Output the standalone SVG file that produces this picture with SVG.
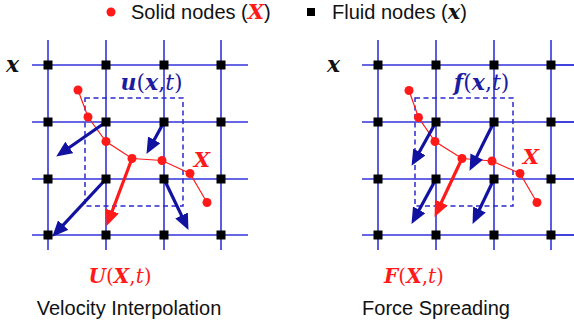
<svg xmlns="http://www.w3.org/2000/svg" width="574" height="333" viewBox="0 0 574 333">
<style>
.grid{stroke:#3434dc;stroke-width:1.6;fill:none}
.fn{fill:#000}
.dash{stroke:#2a2ad0;stroke-width:1.5;fill:none;stroke-dasharray:5,3.5}
.chain{stroke:#ff1a1a;stroke-width:1.2;fill:none}
.sn{fill:#ff1a1a}
.ba{stroke:#1212a0;stroke-width:3.2;fill:none;marker-end:url(#hb)}
.ra{stroke:#ff1a1a;stroke-width:3.2;fill:none;marker-end:url(#hr)}
.sans{font-family:"Liberation Sans",Arial,sans-serif;fill:#111}
.math{font-family:"DejaVu Serif","Liberation Serif",serif}
.bi{font-weight:bold;font-style:italic}
.it{font-style:italic}
</style>
<defs>
<marker id="hb" markerUnits="userSpaceOnUse" markerWidth="18" markerHeight="16" refX="11" refY="7" orient="auto" viewBox="0 0 18 16">
<path d="M0,0 L16,7 L0,14 z" fill="#1212a0"/>
</marker>
<marker id="hr" markerUnits="userSpaceOnUse" markerWidth="18" markerHeight="16" refX="11" refY="7" orient="auto" viewBox="0 0 18 16">
<path d="M0,0 L16,7 L0,14 z" fill="#ff1a1a"/>
</marker>
<g id="gridlines">
<path class="grid" d="M48,40V250M106,40V250M164,40V250M221,40V250M32,65H248M32,122H248M32,179H248M32,235H248"/>
</g>
<g id="fluidnodes">
<rect class="fn" x="43.5" y="60.5" width="9" height="9"/>
<rect class="fn" x="101.5" y="60.5" width="9" height="9"/>
<rect class="fn" x="159.5" y="60.5" width="9" height="9"/>
<rect class="fn" x="216.5" y="60.5" width="9" height="9"/>
<rect class="fn" x="43.5" y="117.5" width="9" height="9"/>
<rect class="fn" x="101.5" y="117.5" width="9" height="9"/>
<rect class="fn" x="159.5" y="117.5" width="9" height="9"/>
<rect class="fn" x="216.5" y="117.5" width="9" height="9"/>
<rect class="fn" x="43.5" y="174.5" width="9" height="9"/>
<rect class="fn" x="101.5" y="174.5" width="9" height="9"/>
<rect class="fn" x="159.5" y="174.5" width="9" height="9"/>
<rect class="fn" x="216.5" y="174.5" width="9" height="9"/>
<rect class="fn" x="43.5" y="230.5" width="9" height="9"/>
<rect class="fn" x="101.5" y="230.5" width="9" height="9"/>
<rect class="fn" x="159.5" y="230.5" width="9" height="9"/>
<rect class="fn" x="216.5" y="230.5" width="9" height="9"/>
</g>
</defs>

<!-- Legend -->
<g id="legend">
<circle class="sn" cx="111" cy="12" r="4.5"/>
<text class="sans" x="131" y="19" font-size="20">Solid nodes (<tspan class="math bi" fill="#ff1a1a" font-size="21">X</tspan>)</text>
<rect class="fn" x="307" y="8" width="8" height="8"/>
<text class="sans" x="332" y="19" font-size="20">Fluid nodes (<tspan class="math bi" fill="#111" font-size="21">x</tspan>)</text>
</g>

<!-- Left panel: Velocity Interpolation -->
<g id="left-panel">
<use href="#gridlines"/>
<rect class="dash" x="85" y="98" width="98" height="108"/>
<g id="left-connectors">
<polyline class="chain" points="78,90 88,117 106,141.5 132,158.5 162,160.5 190,173.5 207,202.5"/>
<line class="ba" x1="106" y1="122" x2="60.3" y2="153.7"/>
<line class="ba" x1="164" y1="122" x2="148.9" y2="149.5"/>
<line class="ba" x1="106" y1="179" x2="55.7" y2="233.1"/>
<line class="ba" x1="164" y1="179" x2="186.3" y2="225.4"/>
<line class="ra" x1="132" y1="158.5" x2="108.4" y2="221.3"/>
</g>
<use href="#fluidnodes"/>
<g id="left-solid">
<circle class="sn" cx="78" cy="90" r="4.5"/>
<circle class="sn" cx="88" cy="117" r="4.5"/>
<circle class="sn" cx="106" cy="141.5" r="4.5"/>
<circle class="sn" cx="132" cy="158.5" r="4.5"/>
<circle class="sn" cx="162" cy="160.5" r="4.5"/>
<circle class="sn" cx="190" cy="173.5" r="4.5"/>
<circle class="sn" cx="207" cy="202.5" r="4.5"/>
</g>
<text class="math bi" x="6" y="72" font-size="22" fill="#111">x</text>
<text class="math" x="151.5" y="90" font-size="22" fill="#1c1ca0" text-anchor="middle"><tspan class="bi">u</tspan>(<tspan class="bi">x</tspan>,<tspan class="it">t</tspan>)</text>
<text class="math bi" x="202" y="167" font-size="21" fill="#ff1a1a" text-anchor="middle">X</text>
<text class="math" x="120" y="283" font-size="20" fill="#ff1a1a" text-anchor="middle"><tspan class="bi">U</tspan>(<tspan class="bi">X</tspan>,<tspan class="it">t</tspan>)</text>
<text class="sans" x="129" y="315" font-size="20" text-anchor="middle">Velocity Interpolation</text>
</g>

<!-- Right panel: Force Spreading -->
<g id="right-panel">
<use href="#gridlines" transform="translate(330,0)"/>
<path class="grid" d="M551,65H574M551,122H574M551,179H574M551,235H574"/>
<rect class="dash" x="415" y="98" width="98" height="108"/>
<g id="right-connectors">
<polyline class="chain" points="409,90.5 418.5,117.5 435,141.5 462,158.5 492,161 520,173.5 537,202.5"/>
<line class="ba" x1="436" y1="122" x2="414" y2="161.5"/>
<line class="ba" x1="494" y1="122" x2="471.8" y2="166.4"/>
<line class="ba" x1="436" y1="179" x2="413.9" y2="219.5"/>
<line class="ba" x1="494" y1="179" x2="474.7" y2="219.4"/>
<line class="ra" x1="462" y1="158.5" x2="436.7" y2="212.4"/>
</g>
<use href="#fluidnodes" transform="translate(330,0)"/>
<g id="right-solid">
<circle class="sn" cx="409" cy="90.5" r="4.5"/>
<circle class="sn" cx="418.5" cy="117.5" r="4.5"/>
<circle class="sn" cx="435" cy="141.5" r="4.5"/>
<circle class="sn" cx="462" cy="158.5" r="4.5"/>
<circle class="sn" cx="492" cy="161" r="4.5"/>
<circle class="sn" cx="520" cy="173.5" r="4.5"/>
<circle class="sn" cx="537" cy="202.5" r="4.5"/>
</g>
<text class="math bi" x="327" y="72" font-size="22" fill="#111">x</text>
<text class="math" x="481.5" y="90" font-size="22" fill="#1c1ca0" text-anchor="middle"><tspan class="bi">f</tspan>(<tspan class="bi">x</tspan>,<tspan class="it">t</tspan>)</text>
<text class="math bi" x="531" y="164" font-size="21" fill="#ff1a1a" text-anchor="middle">X</text>
<text class="math" x="414" y="283" font-size="20" fill="#ff1a1a" text-anchor="middle"><tspan class="bi">F</tspan>(<tspan class="bi">X</tspan>,<tspan class="it">t</tspan>)</text>
<text class="sans" x="436" y="315" font-size="20" text-anchor="middle">Force Spreading</text>
</g>
</svg>
